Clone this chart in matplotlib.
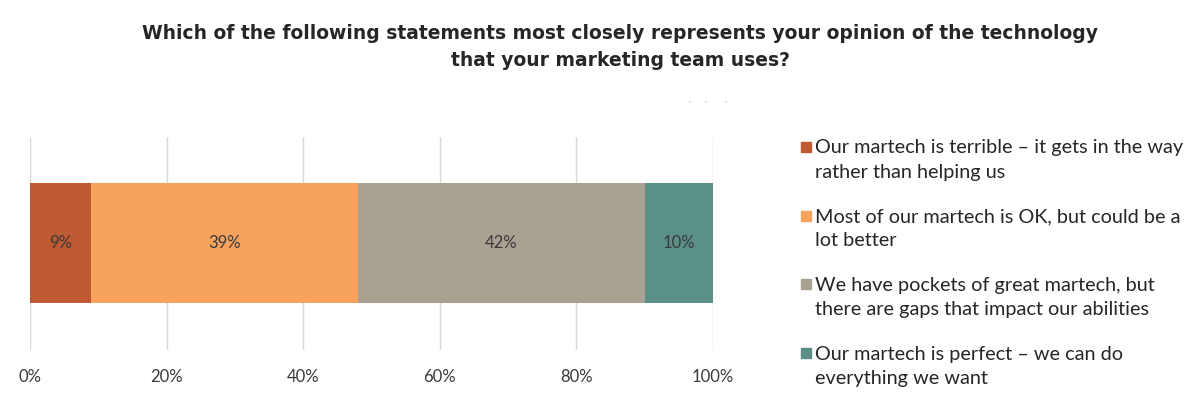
import numpy as np
import matplotlib.pyplot as plt
from matplotlib.patches import Rectangle

categories = [
    'Our martech is terrible – it gets in the way\nrather than helping us',
    'Most of our martech is OK, but could be a\nlot better',
    'We have pockets of great martech, but\nthere are gaps that impact our abilities',
    'Our martech is perfect – we can do\neverything we want',
]
values = [9, 39, 42, 10]
colores = ['#C05A32', '#F7A35E', '#A9A292', '#5A9087']
ticks = [0, 20, 40, 60, 80, 100]
tick_labels = ['0%', '20%', '40%', '60%', '80%', '100%']

W, H = 1200, 404
fig = plt.figure(figsize=(W / 100, H / 100), dpi=100)
ax = fig.add_axes([0.025, 0.134, 0.569, 0.527])

izq = 0
for v, c in zip(values, colores):
    ax.barh(0, v, left=izq, height=0.563, color=c, zorder=2)
    ax.text(izq + v / 2, 0, f'{v}%', ha='center', va='center',
            fontsize=12, color='#3a3a3a', family='Lato', zorder=3)
    izq += v

ax.set_xlim(0, 100)
ax.set_ylim(-0.5, 0.5)
ax.set_xticks(ticks)
ax.set_xticklabels(tick_labels, family='Lato', fontsize=12, color='#3a3a3a')
ax.set_yticks([])
ax.grid(axis='x', color='#d9d9d9', linewidth=1, zorder=0)
for s in ax.spines.values():
    s.set_visible(False)
ax.tick_params(axis='x', length=0, pad=14)

fig.text(0.517, 0.884, 'Which of the following statements most closely represents your opinion of the technology\nthat your marketing team uses?',
         ha='center', va='center', fontsize=13.5, fontweight='bold', color='#262626',
         family='DejaVu Sans', linespacing=1.55)

fig.text(0.590, 0.738, '·   ·    ·', fontsize=9, color='#aaaaaa', ha='center')

# leyenda a mano: cuadro alineado con la primera linea
for i, (cat, c) in enumerate(zip(categories, colores)):
    y0 = 147 + i * 68.7
    fig.patches.append(Rectangle(((801) / W, 1 - (y0 + 5) / H), 10 / W, 10 / H,
                                 transform=fig.transFigure, color=c))
    for j, linea in enumerate(cat.split('\n')):
        fig.text(815 / W, 1 - (y0 + 6.5 + j * 24) / H, linea, ha='left', va='baseline',
                 fontsize=14.3, family='Lato', color='#262626')

fig.savefig('out.png', dpi=100)
